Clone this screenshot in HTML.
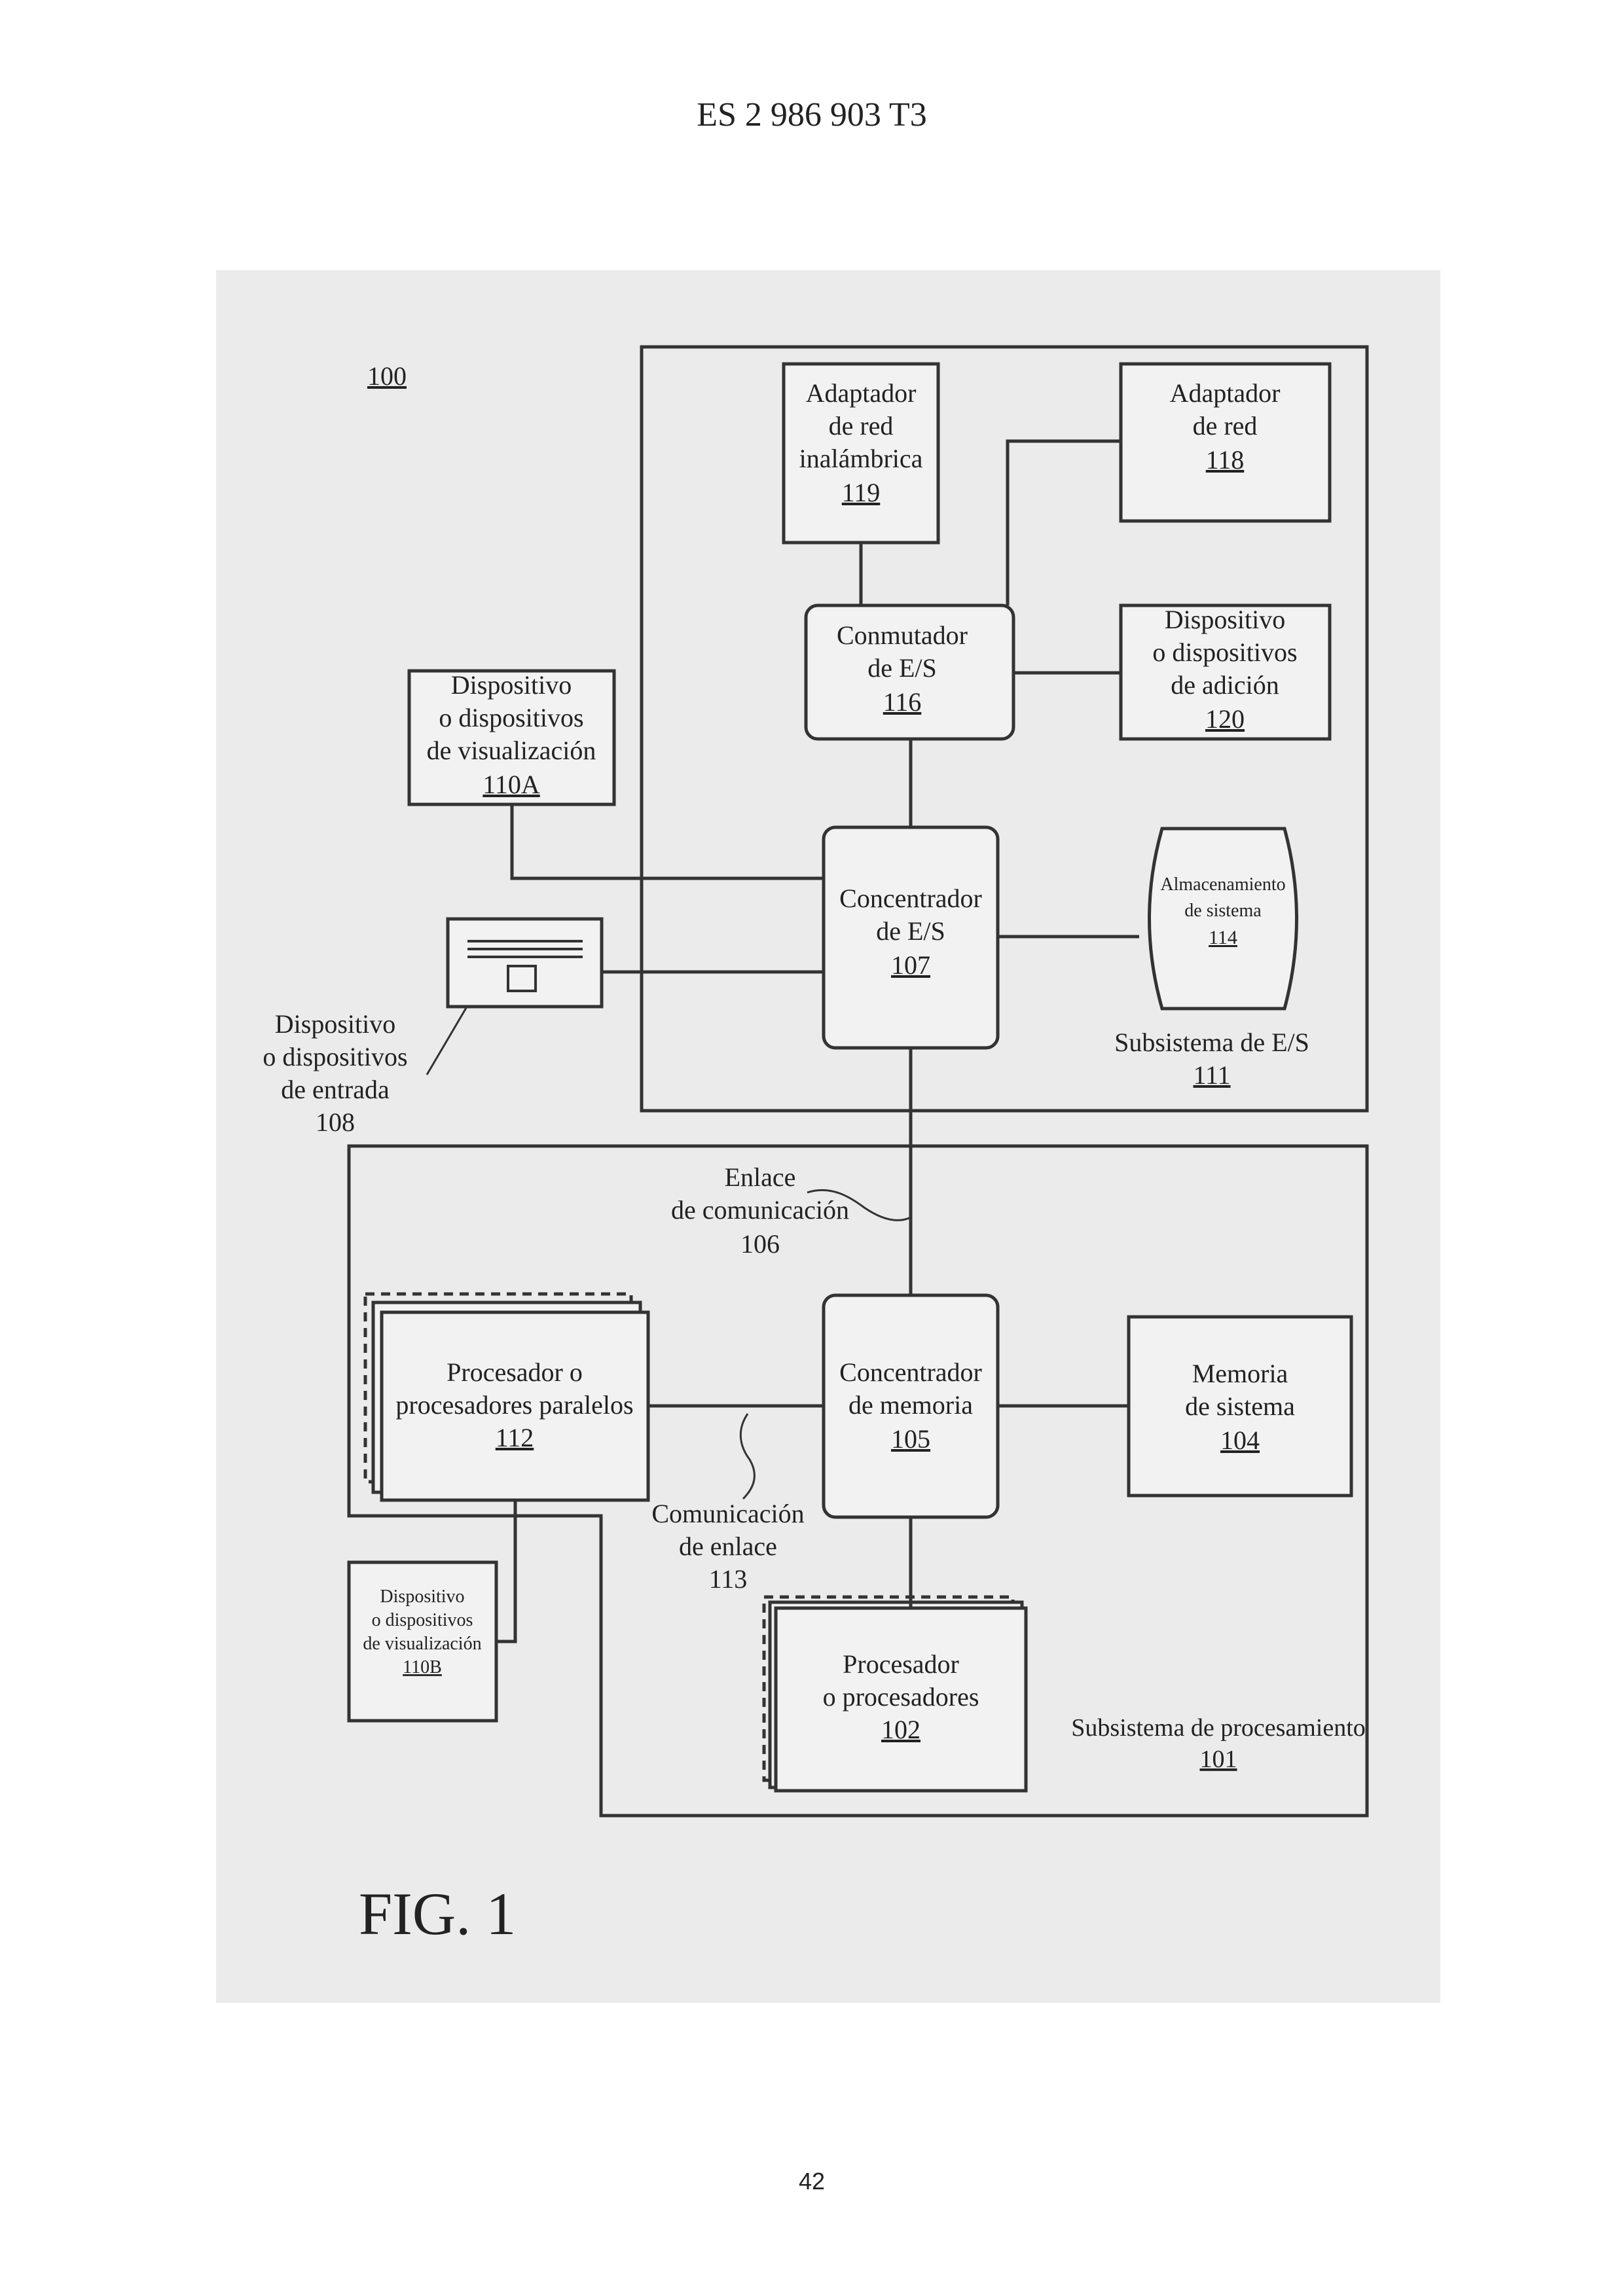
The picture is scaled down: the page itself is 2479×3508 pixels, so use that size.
<!DOCTYPE html>
<html><head><meta charset="utf-8"><style>
html,body{margin:0;padding:0;background:#fff;}
svg{display:block;}
text{font-family:"Liberation Serif",serif;fill:#222;}
</style></head><body>
<svg width="2479" height="3508" viewBox="0 0 2479 3508" xmlns="http://www.w3.org/2000/svg">
<rect x="0" y="0" width="2479" height="3508" fill="#fff"/>
<rect x="330" y="413" width="1870" height="2647" fill="#ebebeb"/>
<text x="1240" y="192" font-size="52" text-anchor="middle">ES 2 986 903 T3</text>
<text x="1240" y="3345" font-size="36" text-anchor="middle" style="font-family:'Liberation Sans',sans-serif">42</text>

<g fill="none" stroke="#333" stroke-width="5">
<rect x="980" y="530" width="1108" height="1167"/>
<path d="M533 1751 H2088 V2774 H918 V2316 H533 Z"/>
<rect x="1197" y="556" width="236" height="273" fill="#f2f2f2"/>
<rect x="1712" y="556" width="319" height="240" fill="#f2f2f2"/>
<rect x="1231" y="925" width="317" height="204" rx="18" fill="#f2f2f2"/>
<rect x="1712" y="925" width="319" height="204" fill="#f2f2f2"/>
<rect x="625" y="1025" width="313" height="204" fill="#f2f2f2"/>
<rect x="1258" y="1264" width="266" height="337" rx="18" fill="#f2f2f2"/>
<path d="M1775 1266 H1962 Q1999 1403 1962 1541 H1775 Q1736 1403 1775 1266 Z" fill="#f2f2f2"/>
<rect x="684" y="1404" width="235" height="134" fill="#f2f2f2"/>
<rect x="1258" y="1979" width="266" height="339" rx="18" fill="#f2f2f2"/>
<rect x="1724" y="2012" width="340" height="273" fill="#f2f2f2"/>
<rect x="533" y="2387" width="225" height="242" fill="#f2f2f2"/>
<rect x="558" y="1977" width="406" height="287" stroke-dasharray="14 10"/>
<rect x="570" y="1990" width="408" height="290" fill="#f2f2f2"/>
<rect x="583" y="2005" width="407" height="287" fill="#f2f2f2"/>
<rect x="1167" y="2440" width="380" height="280" stroke-dasharray="14 10"/>
<rect x="1176" y="2448" width="385" height="283" fill="#f2f2f2"/>
<rect x="1185" y="2457" width="382" height="279" fill="#f2f2f2"/>
<path d="M1315 829 V925"/>
<path d="M1539 925 V674 H1712"/>
<path d="M1548 1028 H1712"/>
<path d="M1391 1129 V1264"/>
<path d="M782 1229 V1342 H1258"/>
<path d="M919 1485 H1258"/>
<path d="M1524 1431 H1740"/>
<path d="M1391 1601 V1979"/>
<path d="M990 2148 H1258"/>
<path d="M1524 2148 H1724"/>
<path d="M1391 2318 V2457"/>
<path d="M787 2292 V2508 H758"/>
<path d="M714 1438 H890 M714 1450 H890 M714 1462 H890" stroke-width="4"/>
<rect x="776" y="1476" width="42" height="38" stroke-width="4"/>
<path d="M652 1642 L712 1540" stroke-width="3"/>
<path d="M1233 1822 C1270 1810 1300 1830 1320 1845 C1345 1862 1370 1870 1391 1860" stroke-width="3"/>
<path d="M1142 2160 C1125 2185 1130 2210 1145 2230 C1160 2255 1150 2275 1135 2290" stroke-width="3"/>
</g>

<g font-size="40" text-anchor="middle">
<text x="591" y="588" text-decoration="underline">100</text>
<text x="1315" y="614">Adaptador</text>
<text x="1315" y="664">de red</text>
<text x="1315" y="714">inalámbrica</text>
<text x="1315" y="766" text-decoration="underline">119</text>
<text x="1871" y="614">Adaptador</text>
<text x="1871" y="664">de red</text>
<text x="1871" y="716" text-decoration="underline">118</text>
<text x="1378" y="984">Conmutador</text>
<text x="1378" y="1034">de E/S</text>
<text x="1378" y="1086" text-decoration="underline">116</text>
<text x="1871" y="960">Dispositivo</text>
<text x="1871" y="1010">o dispositivos</text>
<text x="1871" y="1060">de adición</text>
<text x="1871" y="1112" text-decoration="underline">120</text>
<text x="781" y="1060">Dispositivo</text>
<text x="781" y="1110">o dispositivos</text>
<text x="781" y="1160">de visualización</text>
<text x="781" y="1212" text-decoration="underline">110A</text>
<text x="1391" y="1386">Concentrador</text>
<text x="1391" y="1436">de E/S</text>
<text x="1391" y="1488" text-decoration="underline">107</text>
<text x="1868" y="1360" font-size="28">Almacenamiento</text>
<text x="1868" y="1400" font-size="28">de sistema</text>
<text x="1868" y="1442" font-size="30" text-decoration="underline">114</text>
<text x="512" y="1578">Dispositivo</text>
<text x="512" y="1628">o dispositivos</text>
<text x="512" y="1678">de entrada</text>
<text x="512" y="1728">108</text>
<text x="1851" y="1606">Subsistema de E/S</text>
<text x="1851" y="1656" text-decoration="underline">111</text>
<text x="1161" y="1812">Enlace</text>
<text x="1161" y="1862">de comunicación</text>
<text x="1161" y="1914">106</text>
<text x="786" y="2110">Procesador o</text>
<text x="786" y="2160">procesadores paralelos</text>
<text x="786" y="2210" text-decoration="underline">112</text>
<text x="1391" y="2110">Concentrador</text>
<text x="1391" y="2160">de memoria</text>
<text x="1391" y="2212" text-decoration="underline">105</text>
<text x="1894" y="2112">Memoria</text>
<text x="1894" y="2162">de sistema</text>
<text x="1894" y="2214" text-decoration="underline">104</text>
<text x="1112" y="2326">Comunicación</text>
<text x="1112" y="2376">de enlace</text>
<text x="1112" y="2426">113</text>
<text x="645" y="2448" font-size="28">Dispositivo</text>
<text x="645" y="2484" font-size="28">o dispositivos</text>
<text x="645" y="2520" font-size="28">de visualización</text>
<text x="645" y="2556" font-size="28" text-decoration="underline">110B</text>
<text x="1376" y="2556">Procesador</text>
<text x="1376" y="2606">o procesadores</text>
<text x="1376" y="2656" text-decoration="underline">102</text>
<text x="1861" y="2652" font-size="38">Subsistema de procesamiento</text>
<text x="1861" y="2700" font-size="38" text-decoration="underline">101</text>
</g>
<text x="548" y="2955" font-size="92">FIG. 1</text>
</svg>
</body></html>
